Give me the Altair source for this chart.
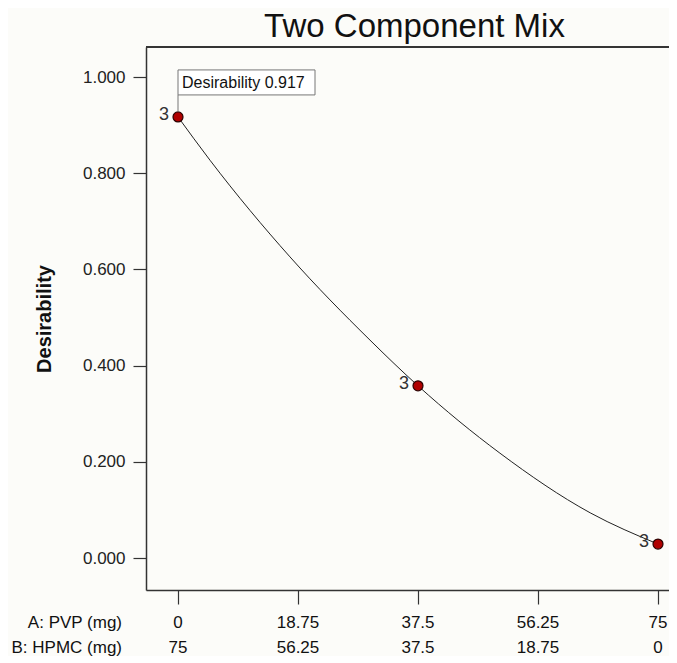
import altair as alt
import pandas as pd

# ---- data ----
pvp_ticks = [0, 18.75, 37.5, 56.25, 75]
pvp_labels = ["0", "18.75", "37.5", "56.25", "75"]
hpmc_labels = ["75", "56.25", "37.5", "18.75", "0"]
row_a_name = "A: PVP (mg)"
row_b_name = "B: HPMC (mg)"

design_pvp = [0, 37.5, 75]
design_des = [0.917, 0.358, 0.029]
design_reps = ["3", "3", "3"]

curve_pvp = [0, 5, 17.5, 30, 37.5, 50.3, 64.4, 75]
curve_des = [0.917, 0.827, 0.626, 0.453, 0.358, 0.218, 0.094, 0.029]

y_ticks = [0.0, 0.2, 0.4, 0.6, 0.8, 1.0]

FONT = "Liberation Sans"
W, H = 523, 543

xs = alt.Scale(domain=[-5, -5 + W / 6.4], nice=False, zero=False)
ys = alt.Scale(domain=[-0.0665, 1.0624], nice=False, zero=False)

design = pd.DataFrame({"pvp": design_pvp, "des": design_des, "rep": design_reps})
curve = pd.DataFrame({"pvp": curve_pvp, "des": curve_des})
ticks = pd.DataFrame({"pvp": pvp_ticks, "a": pvp_labels, "b": hpmc_labels})
annot = design.iloc[[0]].assign(label=lambda d: "Desirability " + d["des"].map(lambda v: f"{v:.3f}"))

x_enc = alt.X("pvp:Q", scale=xs,
              axis=alt.Axis(values=pvp_ticks, labels=False, title=None, grid=False,
                            domain=True, domainColor="#333", domainWidth=1.5,
                            tickSize=14, tickColor="#333", tickWidth=1.2))
y_enc = alt.Y("des:Q", scale=ys,
              axis=alt.Axis(values=y_ticks, format=".3f", grid=False,
                            domain=True, domainColor="#333", domainWidth=1.5,
                            tickSize=13, tickColor="#333", tickWidth=1.2, labelPadding=8,
                            labelFontSize=17, labelColor="#222", labelFont=FONT,
                            title="Desirability", titleFontSize=20, titleFont=FONT,
                            titleFontWeight="bold", titleColor="#111",
                            titleX=-102, titleY=H / 2, titleAngle=-90,
                            titleAlign="center", titleBaseline="middle"))

frame_top = alt.Chart(design).mark_rule(color="#333", strokeWidth=1.5).encode(
    x=alt.value(0), x2=alt.value(W), y=alt.value(0))

line = alt.Chart(curve).mark_line(color="#222", strokeWidth=1, interpolate="monotone").encode(
    x=x_enc, y=y_enc)

pts = alt.Chart(design).mark_point(filled=True, fill="#b00000", stroke="#2a0000",
                                   strokeWidth=1.2, size=100, opacity=1).encode(
    x=alt.X("pvp:Q", scale=xs), y=alt.Y("des:Q", scale=ys))

reps = alt.Chart(design).mark_text(align="right", baseline="middle", dx=-9, dy=-2,
                                   fontSize=18, font=FONT, color="#333").encode(
    x=alt.X("pvp:Q", scale=xs), y=alt.Y("des:Q", scale=ys), text="rep:N")

box = alt.Chart(annot).mark_rect(fill="white", stroke="#777", strokeWidth=1,
                                 x2Offset=137, yOffset=-47, y2Offset=-22).encode(
    x=alt.X("pvp:Q", scale=xs), x2="pvp:Q",
    y=alt.Y("des:Q", scale=ys), y2="des:Q")

leader = alt.Chart(annot).mark_rule(color="#777", strokeWidth=1,
                                    yOffset=-22, y2Offset=-5).encode(
    x=alt.X("pvp:Q", scale=xs),
    y=alt.Y("des:Q", scale=ys), y2="des:Q")

annot_txt = alt.Chart(annot).mark_text(align="left", baseline="middle", dx=4, dy=-34,
                                       fontSize=16, font=FONT, color="#111").encode(
    x=alt.X("pvp:Q", scale=xs), y=alt.Y("des:Q", scale=ys), text="label:N")

ROW_A_Y = H + 38
ROW_B_Y = H + 63

row_a = alt.Chart(ticks).mark_text(align="center", baseline="alphabetic", fontSize=17,
                                   font=FONT, color="#111").encode(
    x=alt.X("pvp:Q", scale=xs), y=alt.value(ROW_A_Y), text="a:N")
row_b = alt.Chart(ticks).mark_text(align="center", baseline="alphabetic", fontSize=17,
                                   font=FONT, color="#111").encode(
    x=alt.X("pvp:Q", scale=xs), y=alt.value(ROW_B_Y), text="b:N")

name_a = alt.Chart(ticks.iloc[[0]]).mark_text(align="right", baseline="alphabetic", fontSize=17,
                                              font=FONT, color="#111").encode(
    x=alt.value(-24), y=alt.value(ROW_A_Y), text=alt.value(row_a_name))
name_b = alt.Chart(ticks.iloc[[0]]).mark_text(align="right", baseline="alphabetic", fontSize=17,
                                              font=FONT, color="#111").encode(
    x=alt.value(-24), y=alt.value(ROW_B_Y), text=alt.value(row_b_name))

chart = alt.layer(frame_top, line, pts, reps, leader, box, annot_txt,
                  row_a, row_b, name_a, name_b).properties(
    width=W, height=H,
    autosize=alt.AutoSizeParams(type="none"),
    padding={"left": 138, "top": 39, "right": 0, "bottom": 66},
    background="#fcfcf9",
    title=alt.TitleParams("Two Component Mix", fontSize=33, font=FONT, fontWeight="normal",
                          color="#111", anchor="middle", dx=7, offset=2),
).configure_view(stroke=None).configure(font=FONT)

chart.save("out.html", embed_options={"renderer": "svg", "actions": False})
